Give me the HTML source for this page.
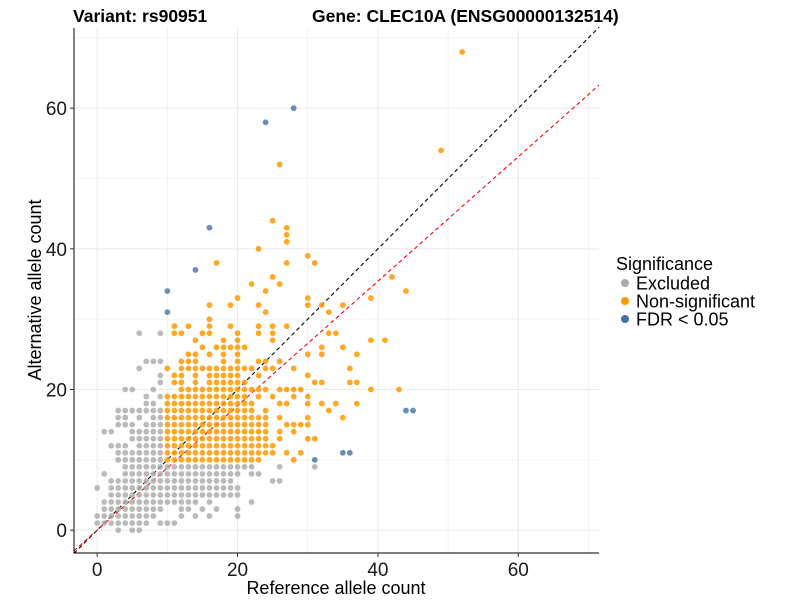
<!DOCTYPE html>
<html><head><meta charset="utf-8"><style>
html,body{margin:0;padding:0;background:#fff;}
svg{display:block;font-family:"Liberation Sans",Arial,sans-serif;}
</style></head><body>
<svg id="chart" width="800" height="600" xmlns="http://www.w3.org/2000/svg">
<g id="grid"></g>
<g id="lines"></g>
<g id="pts"></g>
<g id="axes"></g>
<text x="73" y="22" font-size="17.5" font-weight="bold" fill="#000">Variant: rs90951</text>
<text x="312" y="22" font-size="17.5" font-weight="bold" fill="#000">Gene: CLEC10A (ENSG00000132514)</text>
<text x="336" y="594" font-size="18" text-anchor="middle" fill="#000">Reference allele count</text>
<text transform="translate(41,290) rotate(-90)" font-size="18" text-anchor="middle" fill="#000">Alternative allele count</text>
<g>
<text x="616" y="270" font-size="18" fill="#000">Significance</text>
<g><circle cx="625" cy="283" r="4" fill="#aaaaaa"/><text x="636" y="289.5" font-size="18" fill="#000">Excluded</text></g>
<g><circle cx="625" cy="301" r="4" fill="#ff9900"/><text x="636" y="307.5" font-size="18" fill="#000">Non-significant</text></g>
<g><circle cx="625" cy="319" r="4" fill="#4472a8"/><text x="636" y="325.5" font-size="18" fill="#000">FDR &lt; 0.05</text></g>
</g>
</svg>
<script>
// rows: "y:x list" (ranges a-b)
const excludedRows = ["0:3,5,6","1:0-7,9,10,11","2:0-8,12,14,16,20","3:1-9,12,13,15,17,20","4:1-14,16,22","5:2-20","6:0,2-20","7:2-19,25,26","8:1,4-20,22,23","9:4-20,21,22,26,31",
"10:3-9","11:3-9","12:2,3,4,6-9","13:5-9","14:1,2,5-9","15:3,4,5,7,8,9","16:3,4,6,8,9","17:3-9","18:7,8","19:7,9","20:4,5,8","21:9","22:9","23:6","24:7,8,9","28:6,9"];
const nonsigRows = ["10:10-23,28","11:10-25,27,29","12:10-25","13:10-24,26,30,31","14:10-24,26,28","15:10-24,27,28,29,30","16:10-24,26,30,35","17:10-22,24,33","18:10-22,26,27,30,32,34,37","19:10-21,23,25,28,30","20:12-24,26,27,28,29,39,43","21:11,12,14,16-21,31,32,36,37","22:11,12,14,16-20,23,30","23:10,12-22,24,25,28,36","24:12,13,14,18,20,23,24,26","25:13,14,16,18,20,30,32,37","26:15,17-21,32,35","27:14,18,20,25,39,41","28:11,12,15,16,20,23,25,33,34","29:11,13,16,19,23,25,27","30:16","31:24,33","32:16,19,23,30,32,35","33:20,30,39","34:24,44","35:22,26","36:25,42","38:17,27,31","39:30","40:23","41:27","42:27","43:27","44:25","52:26","54:49","68:52"];
const fdrX = [24,28,16,14,10,10,44,45,35,36,31];
const fdrY = [58,60,43,37,34,31,17,17,11,11,10];
const xTicks = [0,20,40,60];
const yTicks = [0,20,40,60];
const slopeRed = 0.885;

const X0=74,X1=599,Y0=553,Y1=28, xmin=-3.3,xmax=71.5,ymin=-3.25,ymax=71.4;
const sx=v=>X0+(v-xmin)/(xmax-xmin)*(X1-X0);
const sy=v=>Y0-(v-ymin)/(ymax-ymin)*(Y0-Y1);
const NS="http://www.w3.org/2000/svg";
function mk(tag,attrs,parent){const e=document.createElementNS(NS,tag);for(const k in attrs)e.setAttribute(k,attrs[k]);parent.appendChild(e);return e;}
function parse(rows){const out=[];rows.forEach(r=>{const [y,xs]=r.split(":");xs.split(",").forEach(p=>{if(p.includes("-")){const [a,b]=p.split("-").map(Number);for(let i=a;i<=b;i++)out.push([i,+y]);}else out.push([+p,+y]);});});return out;}

const grid=document.getElementById("grid");
[0,10,20,30,40,50,60,70].forEach(v=>{
 const g1=mk("line",{x1:sx(v),x2:sx(v),y1:Y1,y2:Y0,stroke:"#ebebeb","stroke-width":v%20?0.6:1.1},grid);
 
 
 const g2=mk("line",{x1:X0,x2:X1,y1:sy(v),y2:sy(v),stroke:"#ebebeb","stroke-width":v%20?0.6:1.1},grid);
 
 
});
const pts=document.getElementById("pts");
function dot(x,y,fill,op,name){const c=mk("circle",{cx:sx(x),cy:sy(y),r:2.9,fill:fill,"fill-opacity":op},pts);
 
 }
parse(excludedRows).forEach(p=>dot(p[0],p[1],"#a9a9a9",0.8,"excluded-point"));
parse(nonsigRows).forEach(p=>dot(p[0],p[1],"#ff9900",0.85,"non-significant-point"));
fdrX.forEach((x,i)=>dot(x,fdrY[i],"#4472a8",0.8,"fdr-point"));

const lines=document.getElementById("lines");
const lb=mk("line",{x1:sx(xmin),y1:sy(xmin),x2:sx(xmax),y2:sy(xmax),stroke:"#000","stroke-width":1.1,"stroke-dasharray":"4,3"},lines);


const lr=mk("line",{x1:sx(xmin),y1:sy(xmin*slopeRed),x2:sx(xmax),y2:sy(xmax*slopeRed),stroke:"#ff0000","stroke-width":1.1,"stroke-dasharray":"4,3"},lines);



const axes=document.getElementById("axes");
mk("line",{x1:X0,y1:Y1,x2:X0,y2:Y0,stroke:"#000","stroke-width":1},axes);
mk("line",{x1:X0,y1:Y0,x2:X1,y2:Y0,stroke:"#000","stroke-width":1},axes);
xTicks.forEach(v=>{
 mk("line",{x1:sx(v),x2:sx(v),y1:Y0,y2:Y0+4,stroke:"#333"},axes);
 const t=mk("text",{x:sx(v),y:Y0+23,"font-size":19,"text-anchor":"middle",fill:"#1a1a1a"},axes);t.textContent=v;
 
 
});
yTicks.forEach(v=>{
 mk("line",{x1:X0-4,x2:X0,y1:sy(v),y2:sy(v),stroke:"#333"},axes);
 const t=mk("text",{x:X0-7,y:sy(v)+7,"font-size":19,"text-anchor":"end",fill:"#1a1a1a"},axes);t.textContent=v;
 
 
});
</script>
</body></html>
